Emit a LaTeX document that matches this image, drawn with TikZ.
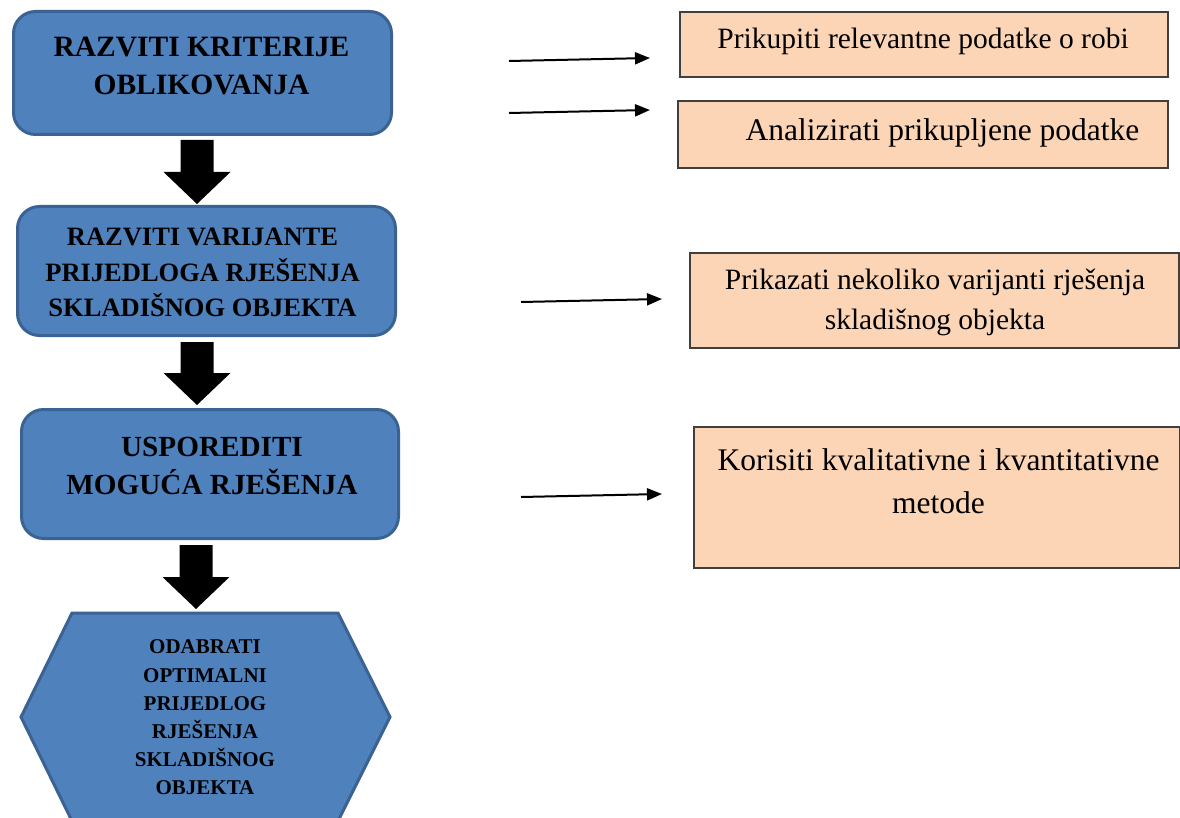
\documentclass[tikz,border=0pt]{standalone}
\usepackage{fontspec}
\setmainfont{Liberation Serif}
\usetikzlibrary{arrows.meta}
\definecolor{boxblue}{HTML}{4F81BD}
\definecolor{boxedge}{HTML}{3A6292}
\definecolor{peach}{HTML}{FBD5B5}
\definecolor{peachedge}{HTML}{3F3F3F}
\begin{document}
\begin{tikzpicture}[x=1pt,y=-1pt,
  bluebox/.style={draw=boxedge, line width=3pt, fill=boxblue, rounded corners=22pt},
  btext/.style={align=center, inner sep=0pt},
  peachbox/.style={draw=peachedge, line width=1.2pt, fill=peach},
  ptext/.style={align=center, inner sep=0pt},
  thinarrow/.style={line width=2pt, -{Triangle[length=15pt,width=12pt]}},
  blockarrow/.style={fill=black}]
\useasboundingbox (0,0) rectangle (1180,818);
\clip (0,0) rectangle (1180,818);
\fill[white] (0,0) rectangle (1180,818);

% left column boxes
\node[bluebox, minimum width=378pt, minimum height=123pt] (b1) at (202.5,73) {};
\node[btext, font={\bfseries\fontsize{29.5}{38}\selectfont}] (t1) at (201.5,65.5) {RAZVITI KRITERIJE\\OBLIKOVANJA};

\node[bluebox, minimum width=378pt, minimum height=129pt] (b2) at (206.5,271) {};
\node[btext, font={\bfseries\fontsize{26.5}{35.5}\selectfont}] (t2) at (202.5,272.5) {RAZVITI VARIJANTE\\PRIJEDLOGA RJEŠENJA\\SKLADIŠNOG OBJEKTA};

\node[bluebox, minimum width=377pt, minimum height=129pt] (b3) at (210,474) {};
\node[btext, font={\bfseries\fontsize{29.2}{38}\selectfont}] (t3) at (212,466) {USPOREDITI\\MOGUĆA RJEŠENJA};

\draw[bluebox, rounded corners=0pt] (72,613) -- (338,613) -- (390,717) -- (338,821) -- (72,821) -- (21,717) -- cycle;
\node[btext, font={\bfseries\fontsize{21}{28.2}\selectfont}] (t4) at (205,717.5) {ODABRATI\\OPTIMALNI\\PRIJEDLOG\\RJEŠENJA\\SKLADIŠNOG\\OBJEKTA};

% block arrows
\fill[blockarrow] (180.5,140) -- (213.5,140) -- (213.5,172) -- (230.5,172) -- (197,204) -- (163.5,172) -- (180.5,172) -- cycle;
\fill[blockarrow] (180.5,342) -- (213.5,342) -- (213.5,373) -- (230.5,373) -- (197,405) -- (163.5,373) -- (180.5,373) -- cycle;
\fill[blockarrow] (179.5,545) -- (212.5,545) -- (212.5,577) -- (229.5,577) -- (196,609) -- (162.5,577) -- (179.5,577) -- cycle;

% right boxes
\node[peachbox, minimum width=488pt, minimum height=65pt] (r1) at (924,44.5) {};
\node[ptext, font={\fontsize{29.5}{38}\selectfont}] (p1) at (923,41.5) {Prikupiti relevantne podatke o robi};

\node[peachbox, minimum width=490pt, minimum height=67pt] (r2) at (923,134.5) {};
\node[ptext, font={\fontsize{31.5}{38}\selectfont}] (p2) at (942.5,132.5) {Analizirati prikupljene podatke};

\node[peachbox, minimum width=489pt, minimum height=95pt] (r3) at (934.5,300.5) {};
\node[ptext, font={\fontsize{29.5}{40}\selectfont}] (p3) at (935,302.5) {Prikazati nekoliko varijanti rješenja\\skladišnog objekta};

\node[peachbox, minimum width=486pt, minimum height=141pt] (r4) at (937,497.5) {};
\node[ptext, font={\fontsize{31.5}{43}\selectfont}] (p4) at (938.5,481) {Korisiti kvalitativne i kvantitativne\\metode};

% thin arrows
\coordinate (a1s) at (509,61);  \coordinate (a1e) at (650,58);
\coordinate (a2s) at (509,113); \coordinate (a2e) at (650,110);
\coordinate (a3s) at (521,302); \coordinate (a3e) at (662,299);
\coordinate (a4s) at (521,497); \coordinate (a4e) at (662,494);
\draw[thinarrow] (a1s) -- (a1e);
\draw[thinarrow] (a2s) -- (a2e);
\draw[thinarrow] (a3s) -- (a3e);
\draw[thinarrow] (a4s) -- (a4e);
\end{tikzpicture}
\end{document}
